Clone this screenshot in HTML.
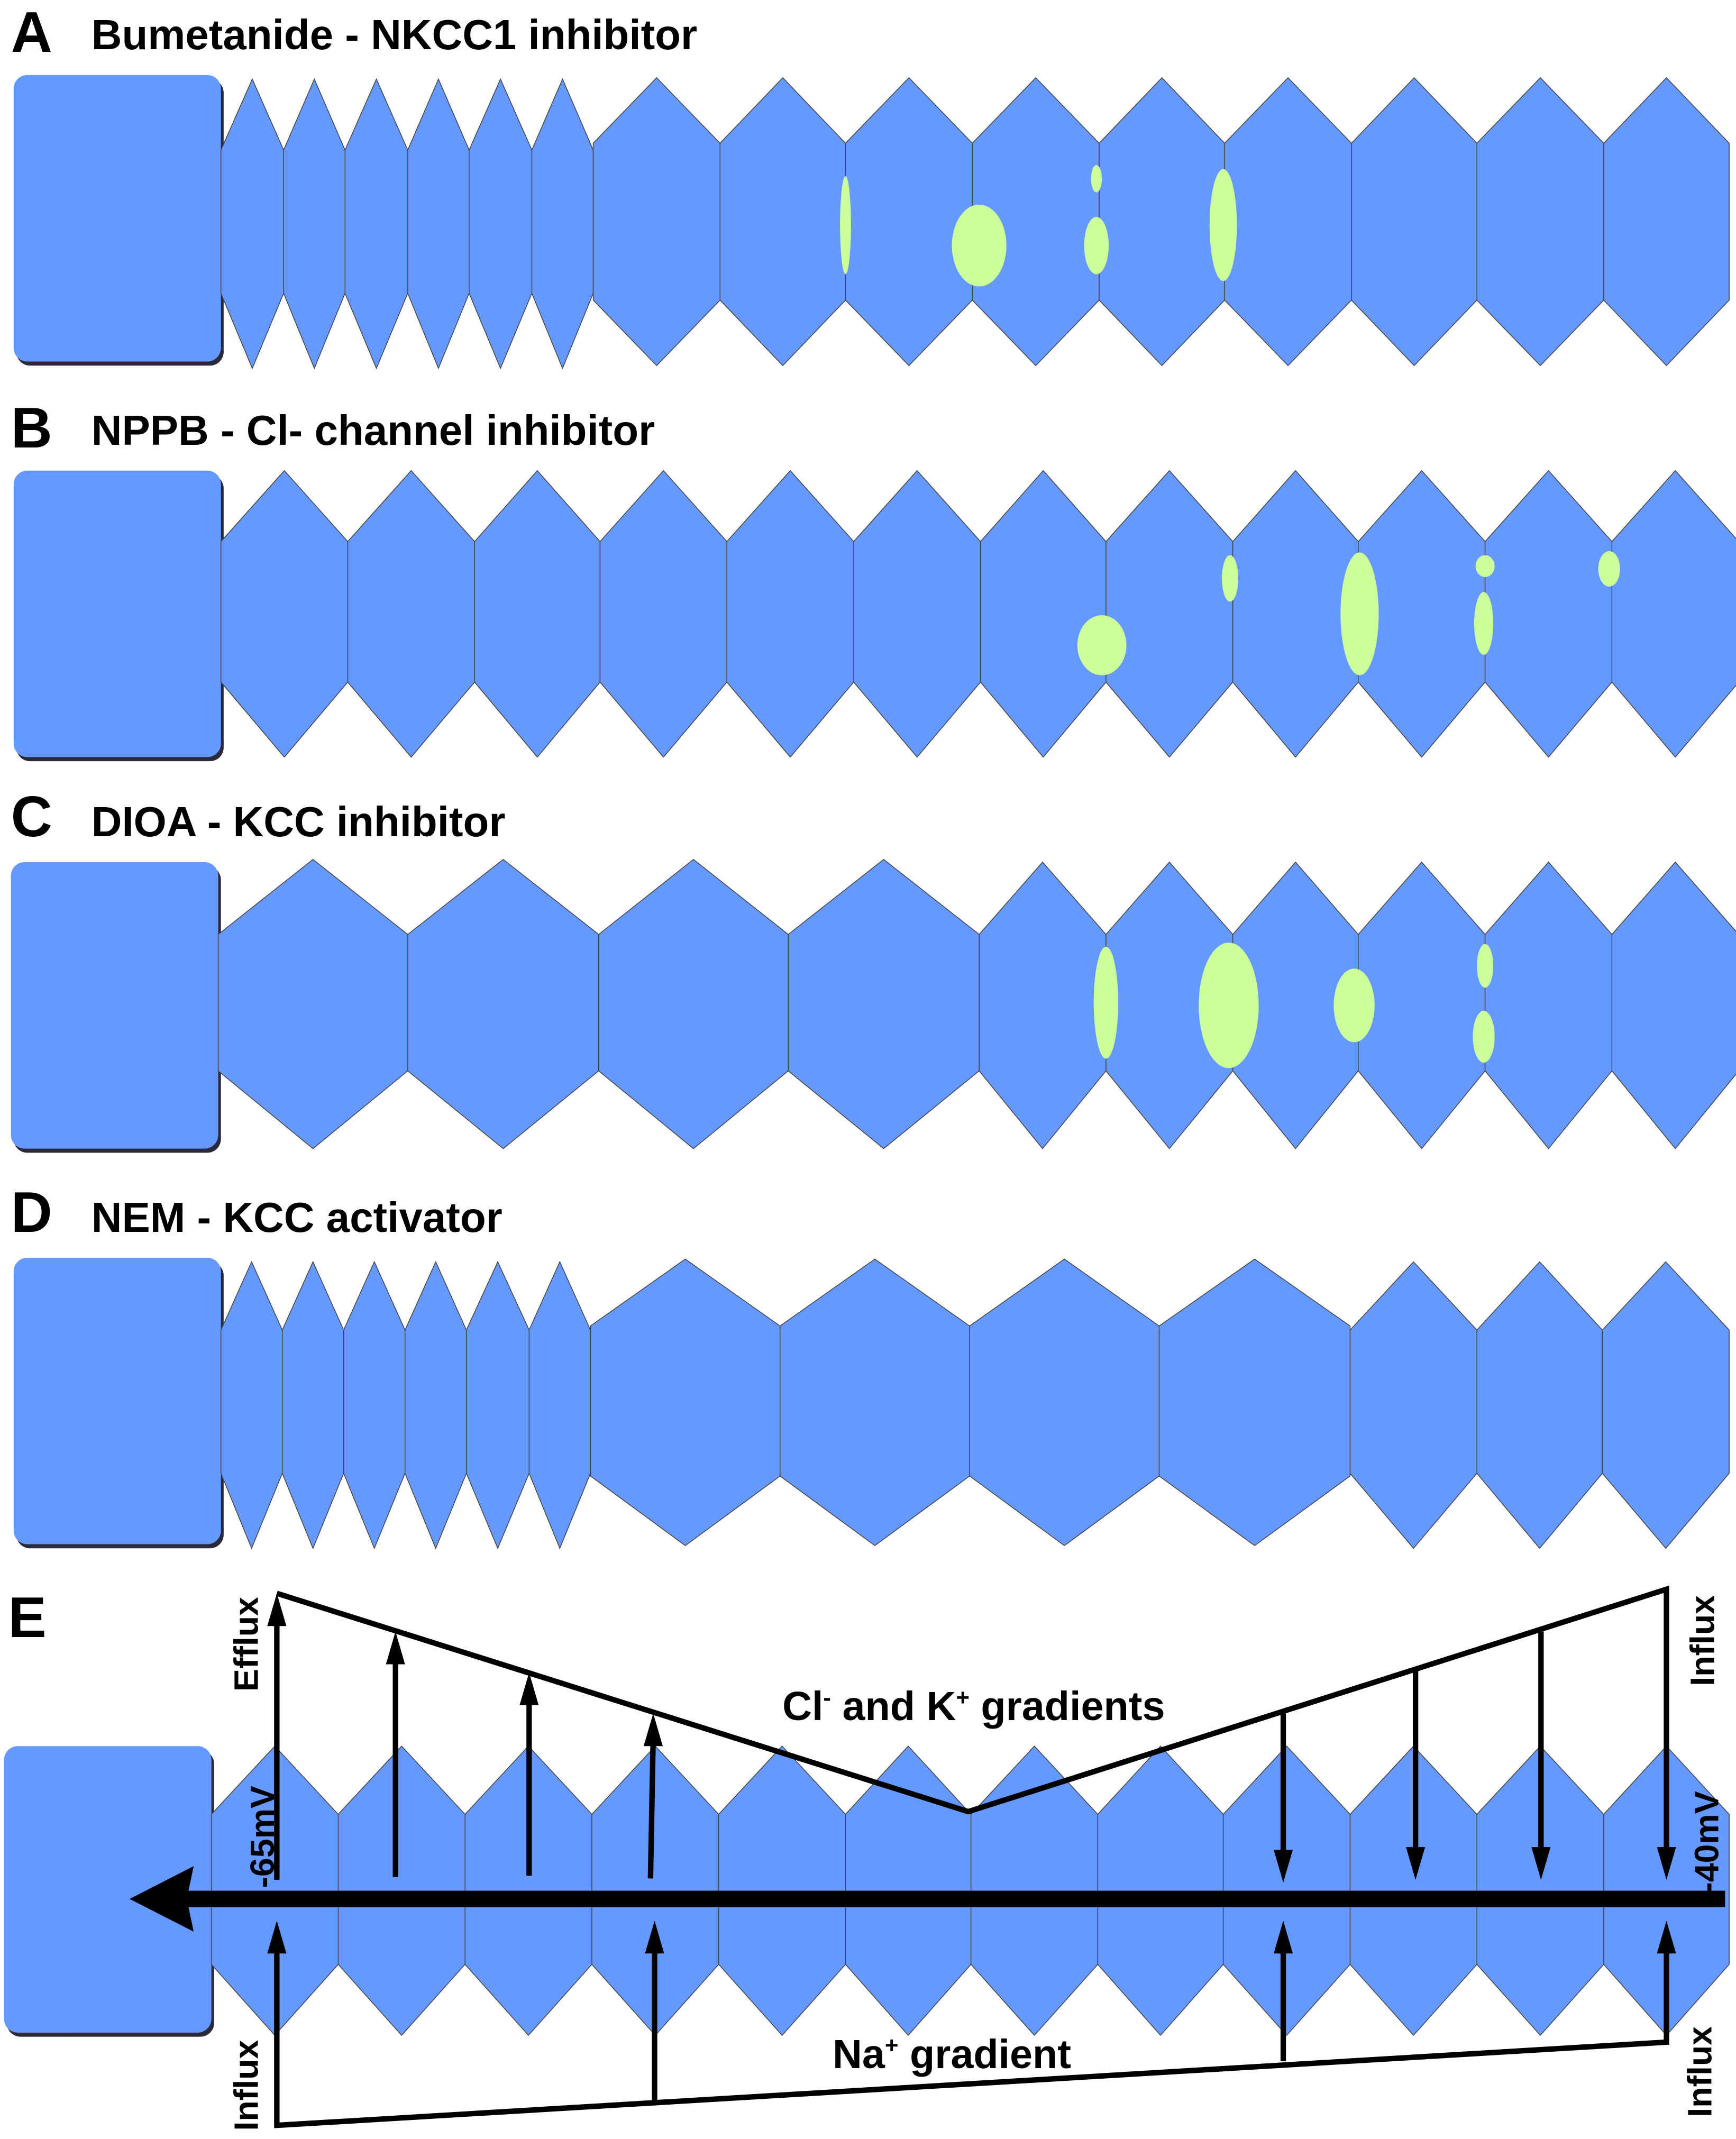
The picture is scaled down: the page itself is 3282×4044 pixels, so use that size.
<!DOCTYPE html>
<html><head><meta charset="utf-8">
<style>html,body{margin:0;padding:0;background:#fff}svg{display:block}</style>
</head><body>
<svg xmlns="http://www.w3.org/2000/svg" width="3282" height="4044" viewBox="0 0 1273 1568" preserveAspectRatio="none" font-family="Liberation Sans, sans-serif" font-weight="bold">
<g fill="#2a2a3a">
<rect x="12" y="58" width="152" height="210" rx="10"/>
<rect x="12" y="348" width="152" height="210" rx="10"/>
<rect x="10" y="635" width="152" height="210" rx="10"/>
<rect x="12" y="925" width="152" height="210" rx="10"/>
<rect x="5" y="1283" width="152" height="210" rx="10"/>
</g>
<g fill="#6699ff">
<rect x="10" y="55" width="152" height="210" rx="10"/>
<rect x="10" y="345" width="152" height="210" rx="10"/>
<rect x="8" y="632" width="152" height="210" rx="10"/>
<rect x="10" y="922" width="152" height="210" rx="10"/>
<rect x="3" y="1280" width="152" height="210" rx="10"/>
</g>
<g fill="#6699ff" stroke="#444" stroke-width="0.6">
<path d="M162 110L185 58L208 110L208 215L185 270L162 215Z M208 110L230.5 58L253 110L253 215L230.5 270L208 215Z M253 110L276 58L299 110L299 215L276 270L253 215Z M299 110L321.5 58L344 110L344 215L321.5 270L299 215Z M344 110L367 58L390 110L390 215L367 270L344 215Z M390 110L412.5 58L435 110L435 215L412.5 270L390 215Z"/>
<path d="M435 105L481.5 57L528 105L528 220L481.5 268L435 220Z M528 105L574 57L620 105L620 220L574 268L528 220Z M620 105L666.5 57L713 105L713 220L666.5 268L620 220Z M713 105L759.5 57L806 105L806 220L759.5 268L713 220Z M806 105L852 57L898 105L898 220L852 268L806 220Z M898 105L944.5 57L991 105L991 220L944.5 268L898 220Z M991 105L1037 57L1083 105L1083 220L1037 268L991 220Z M1083 105L1129.5 57L1176 105L1176 220L1129.5 268L1083 220Z M1176 105L1222 57L1268 105L1268 220L1222 268L1176 220Z"/>
<path d="M162 397L208.5 345L255 397L255 500L208.5 555L162 500Z M255 397L301.5 345L348 397L348 500L301.5 555L255 500Z M348 397L394 345L440 397L440 500L394 555L348 500Z M440 397L486.5 345L533 397L533 500L486.5 555L440 500Z M533 397L579.5 345L626 397L626 500L579.5 555L533 500Z M626 397L672.5 345L719 397L719 500L672.5 555L626 500Z M719 397L765 345L811 397L811 500L765 555L719 500Z M811 397L857.5 345L904 397L904 500L857.5 555L811 500Z M904 397L950 345L996 397L996 500L950 555L904 500Z M996 397L1042.5 345L1089 397L1089 500L1042.5 555L996 500Z M1089 397L1135.5 345L1182 397L1182 500L1135.5 555L1089 500Z M1182 397L1228.5 345L1275 397L1275 500L1228.5 555L1182 500Z"/>
<path d="M160 685L229.5 630L299 685L299 785L229.5 842L160 785Z M299 685L369 630L439 685L439 785L369 842L299 785Z M439 685L508.5 630L578 685L578 785L508.5 842L439 785Z M578 685L648 630L718 685L718 785L648 842L578 785Z M718 685L764.5 632L811 685L811 785L764.5 842L718 785Z M811 685L857.5 632L904 685L904 785L857.5 842L811 785Z M904 685L950 632L996 685L996 785L950 842L904 785Z M996 685L1042.5 632L1089 685L1089 785L1042.5 842L996 785Z M1089 685L1135.5 632L1182 685L1182 785L1135.5 842L1089 785Z M1182 685L1228.5 632L1275 685L1275 785L1228.5 842L1182 785Z"/>
<path d="M162 975L184.5 925L207 975L207 1080L184.5 1135L162 1080Z M207 975L229.5 925L252 975L252 1080L229.5 1135L207 1080Z M252 975L274.5 925L297 975L297 1080L274.5 1135L252 1080Z M297 975L319.5 925L342 975L342 1080L319.5 1135L297 1080Z M342 975L365 925L388 975L388 1080L365 1135L342 1080Z M388 975L410.5 925L433 975L433 1080L410.5 1135L388 1080Z"/>
<path d="M433 972L502.5 923L572 972L572 1082L502.5 1133L433 1082Z M572 972L641.5 923L711 972L711 1082L641.5 1133L572 1082Z M711 972L780.5 923L850 972L850 1082L780.5 1133L711 1082Z M850 972L920 923L990 972L990 1082L920 1133L850 1082Z M990 975L1036.5 925L1083 975L1083 1080L1036.5 1135L990 1080Z M1083 975L1129 925L1175 975L1175 1080L1129 1135L1083 1080Z M1175 975L1221.5 925L1268 975L1268 1080L1221.5 1135L1175 1080Z"/>
<path d="M155 1330L201.5 1280L248 1330L248 1440L201.5 1492L155 1440Z M248 1330L294.5 1280L341 1330L341 1440L294.5 1492L248 1440Z M341 1330L387.5 1280L434 1330L434 1440L387.5 1492L341 1440Z M434 1330L480.5 1280L527 1330L527 1440L480.5 1492L434 1440Z M527 1330L573.5 1280L620 1330L620 1440L573.5 1492L527 1440Z M620 1330L666 1280L712 1330L712 1440L666 1492L620 1440Z M712 1330L758.5 1280L805 1330L805 1440L758.5 1492L712 1440Z M805 1330L851 1280L897 1330L897 1440L851 1492L805 1440Z M897 1330L943.5 1280L990 1330L990 1440L943.5 1492L897 1440Z M990 1330L1036.5 1280L1083 1330L1083 1440L1036.5 1492L990 1440Z M1083 1330L1129.5 1280L1176 1330L1176 1440L1129.5 1492L1083 1440Z M1176 1330L1222 1280L1268 1330L1268 1440L1222 1492L1176 1440Z"/>
</g>
<g fill="#ccff99">
<ellipse cx="620" cy="165" rx="4" ry="36"/><ellipse cx="718" cy="180" rx="20" ry="30"/><ellipse cx="804" cy="131" rx="4" ry="10"/><ellipse cx="804" cy="180" rx="9" ry="21"/><ellipse cx="897" cy="165" rx="10" ry="41"/>
<ellipse cx="808" cy="473" rx="18" ry="22"/><ellipse cx="902" cy="424" rx="6" ry="17"/><ellipse cx="997" cy="450" rx="14" ry="45"/><ellipse cx="1089" cy="415" rx="7" ry="8"/><ellipse cx="1088" cy="457" rx="7" ry="23"/><ellipse cx="1180" cy="417" rx="8" ry="13"/>
<ellipse cx="811" cy="735" rx="9" ry="41"/><ellipse cx="901" cy="737" rx="22" ry="46"/><ellipse cx="993" cy="737" rx="15" ry="27"/><ellipse cx="1089" cy="708" rx="6" ry="16"/><ellipse cx="1088" cy="760" rx="8" ry="19"/>
</g>
<g font-size="31">
<text x="8" y="38" font-size="42">A</text><text x="67" y="36">Bumetanide - NKCC1 inhibitor</text>
<text x="8" y="328" font-size="42">B</text><text x="67" y="326">NPPB - Cl- channel inhibitor</text>
<text x="8" y="613" font-size="42">C</text><text x="67" y="613">DIOA - KCC inhibitor</text>
<text x="8" y="903" font-size="42">D</text><text x="67" y="903">NEM - KCC activator</text>
<text x="6" y="1200" font-size="42">E</text>
</g>
<g stroke="#000" fill="none" stroke-width="4">
<polyline points="203,1168 710,1328 1222,1165 1222,1360"/>
<polyline points="203,1430 203,1558 1222,1497 1222,1430"/>
<line x1="203" y1="1378" x2="203" y2="1185"/>
<line x1="290" y1="1376" x2="290" y2="1212"/>
<line x1="388" y1="1375" x2="388" y2="1242"/>
<line x1="477" y1="1377" x2="479" y2="1272"/>
<line x1="941" y1="1256" x2="941" y2="1362"/>
<line x1="1038" y1="1225" x2="1038" y2="1360"/>
<line x1="1130" y1="1196" x2="1130" y2="1360"/>
<line x1="480" y1="1541" x2="480" y2="1425"/>
<line x1="941" y1="1511" x2="941" y2="1425"/>
</g>
<g fill="#000">
<polygon points="203,1168 196,1192 210,1192"/>
<polygon points="290,1196 283,1220 297,1220"/>
<polygon points="388,1226 381,1250 395,1250"/>
<polygon points="479,1256 472,1280 486,1280"/>
<polygon points="941,1380 934,1356 948,1356"/>
<polygon points="1038,1378 1031,1354 1045,1354"/>
<polygon points="1130,1378 1123,1354 1137,1354"/>
<polygon points="1222,1378 1215,1354 1229,1354"/>
<polygon points="203,1408 196,1432 210,1432"/>
<polygon points="480,1408 473,1432 487,1432"/>
<polygon points="941,1408 934,1432 948,1432"/>
<polygon points="1222,1408 1215,1432 1229,1432"/>
<rect x="130" y="1386" width="1135" height="12"/>
<polygon points="95,1392 142,1368 137,1392 142,1416"/>
</g>
<g font-size="25">
<text x="714" y="1261" text-anchor="middle" font-size="30">Cl<tspan font-size="17" dy="-11">-</tspan><tspan dy="11"> and K</tspan><tspan font-size="17" dy="-11">+</tspan><tspan dy="11"> gradients</tspan></text>
<text x="698" y="1516" text-anchor="middle" font-size="30">Na<tspan font-size="17" dy="-11">+</tspan><tspan dy="11"> gradient</tspan></text>
<text transform="translate(189,1240) rotate(-90)">Efflux</text>
<text transform="translate(201,1384) rotate(-90)">-65mV</text>
<text transform="translate(189,1562) rotate(-90)">Influx</text>
<text transform="translate(1257,1236) rotate(-90)">Influx</text>
<text transform="translate(1260,1388) rotate(-90)">-40mV</text>
<text transform="translate(1255,1552) rotate(-90)">Influx</text>
</g>
</svg>
</body></html>
